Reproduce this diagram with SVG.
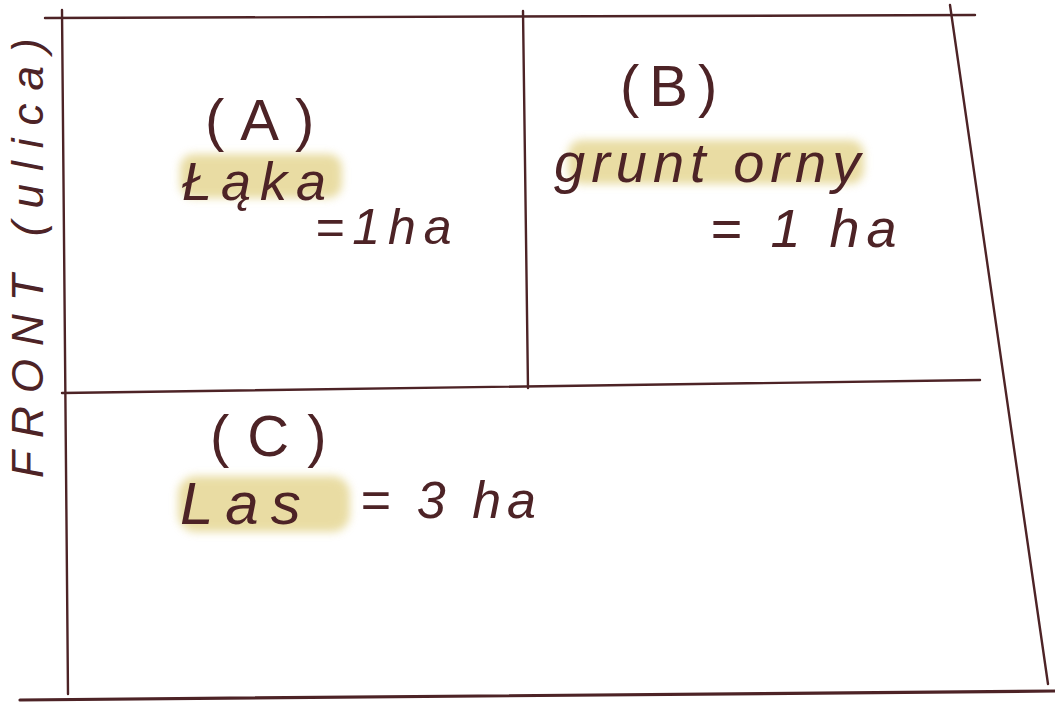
<svg xmlns="http://www.w3.org/2000/svg" width="1055" height="708" viewBox="0 0 1055 708">
  <defs>
    <filter id="soft" x="-20%" y="-40%" width="140%" height="180%">
      <feGaussianBlur stdDeviation="4"/>
    </filter>
    <style>
      .pen { stroke: #4d2326; stroke-width: 2.4; fill: none; stroke-linecap: round; }
      .thick { stroke-width: 3.2; }
      .hand { font-family: "Liberation Sans", "DejaVu Sans", sans-serif; font-style: italic; fill: #4d2326; }
      .tag { font-family: "Liberation Sans", "DejaVu Sans", sans-serif; fill: #4d2326; font-weight: 300; }
      .hl { fill: #e2d185; opacity: 0.75; filter: url(#soft); }
    </style>
  </defs>
  <rect width="1055" height="708" fill="#ffffff"/>

  <g id="connectors">
    <line class="pen" x1="45" y1="18" x2="975" y2="15"/>
    <line class="pen" x1="62" y1="10" x2="68" y2="694"/>
    <line class="pen" x1="523" y1="11" x2="528" y2="388"/>
    <line class="pen" x1="950" y1="5" x2="1048" y2="684"/>
    <line class="pen" x1="62" y1="393" x2="980" y2="380"/>
    <line class="pen thick" x1="20" y1="700" x2="1055" y2="691"/>
  </g>

  <g id="front-label">
    <text class="hand" font-size="44" letter-spacing="13" transform="translate(43,478) rotate(-90)">FRONT (ulica)</text>
  </g>

  <g id="plot-a">
    <rect class="hl" x="180" y="154" width="162" height="44" rx="14"/>
    <text class="tag" x="205" y="140" font-size="58" letter-spacing="16">(A)</text>
    <text class="hand" x="182" y="200" font-size="54" letter-spacing="9">Łąka</text>
    <text class="hand" x="315" y="244" font-size="50" letter-spacing="8">=1ha</text>
  </g>

  <g id="plot-b">
    <rect class="hl" x="568" y="140" width="296" height="44" rx="14"/>
    <text class="tag" x="620" y="106" font-size="58" letter-spacing="10">(B)</text>
    <text class="hand" x="554" y="182" font-size="56" letter-spacing="6">grunt orny</text>
    <text class="hand" x="710" y="247" font-size="54" letter-spacing="7">= 1 ha</text>
  </g>

  <g id="plot-c">
    <rect class="hl" x="178" y="476" width="172" height="56" rx="18"/>
    <text class="tag" x="210" y="456" font-size="58" letter-spacing="18">(C)</text>
    <text class="hand" x="180" y="524" font-size="60" letter-spacing="12">Las</text>
    <text class="hand" x="360" y="518" font-size="52" letter-spacing="6">= 3 ha</text>
  </g>
</svg>
